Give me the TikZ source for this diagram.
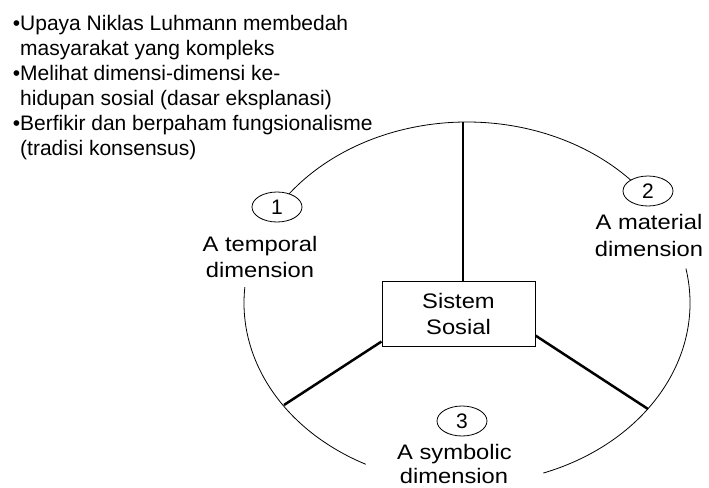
\documentclass[tikz,border=0pt]{standalone}
\usepackage{fontspec}
\setmainfont{Liberation Sans}
\newfontfamily\lblfont[FakeStretch=1.13]{Liberation Sans}
\usetikzlibrary{shapes.geometric}
\begin{document}
\begin{tikzpicture}[x=1pt,y=-1pt,
  toptext/.style={anchor=base west,inner sep=0pt,font=\fontsize{21}{25}\selectfont},
  lbl/.style={anchor=base,inner sep=0pt,font=\lblfont\fontsize{21}{26}\selectfont},
  num/.style={ellipse,draw,line width=0.8pt,fill=white,minimum width=50pt,minimum height=30pt,inner sep=0pt,font=\fontsize{21}{25}\selectfont},
  sysbox/.style={draw,line width=1pt,minimum width=153pt,minimum height=65pt,inner sep=0pt,align=center,font=\lblfont\fontsize{21}{26}\selectfont},
  spoke/.style={line width=2.5pt},
  rim/.style={line width=0.8pt}]
\useasboundingbox (0,0) rectangle (709,487);
% top text
\node[toptext] (t1) at (20,30.5) {\llap{•}Upaya Niklas Luhmann membedah};
\node[toptext] (t2) at (20,55.4) {masyarakat yang kompleks};
\node[toptext] (t3) at (20,80.3) {\llap{•}Melihat dimensi-dimensi ke-};
\node[toptext] (t4) at (20,105.2) {hidupan sosial (dasar eksplanasi)};
\node[toptext] (t5) at (20,130.1) {\llap{•}Berfikir dan berpaham fungsionalisme};
\node[toptext] (t6) at (20,155) {(tradisi konsensus)};
% rim of the system
\coordinate (O) at (467,303);
\draw[rim] (O) ++(-144:223 and 181) arc[start angle=-144,end angle=-41,x radius=223,y radius=181];
\draw[rim] (O) ++(-11:223 and 181) arc[start angle=-11,end angle=70,x radius=223,y radius=181];
\draw[rim] (O) ++(185:223 and 181) arc[start angle=185,end angle=117,x radius=223,y radius=181];
% central box
\node[sysbox] (box) at (458.5,313.5) {Sistem\\Sosial};
% spokes
\coordinate (top) at (463,122);
\coordinate (bl) at (284,405);
\coordinate (br) at (648,409);
\draw[spoke] (top) -- (top |- box.north);
\draw[spoke] (box.200) -- (bl);
\draw[spoke] (box.344) -- (br);
% numbered ellipses
\node[num] (c1) at (277,207) {1};
\node[num] (c2) at (648,191) {2};
\node[num] (c3) at (462,421) {3};
% labels
\node[lbl] (l1a) at (260,251) {A temporal};
\node[lbl] (l1b) at (260,277) {dimension};
\node[lbl] (l2a) at (649,229) {A material};
\node[lbl] (l2b) at (649,256) {dimension};
\node[lbl] (l3a) at (454.5,459.5) {A symbolic};
\node[lbl] (l3b) at (454,483.5) {dimension};
\end{tikzpicture}
\end{document}
